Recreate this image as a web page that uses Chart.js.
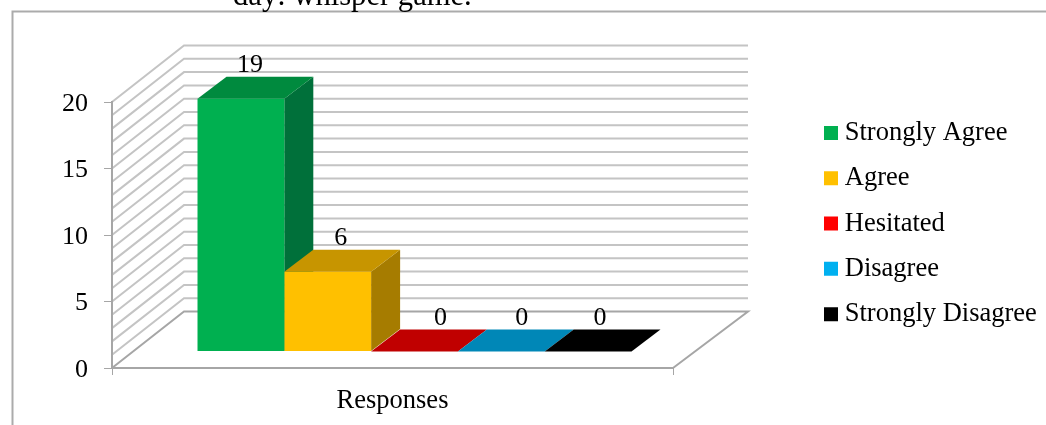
<!DOCTYPE html>
<html>
<head>
<meta charset="utf-8">
<style>
html,body{margin:0;padding:0;background:#fff;overflow:hidden}
#wrap{width:1046px;height:425px;position:relative}
</style>
<script src="https://cdn.jsdelivr.net/npm/chart.js@4/dist/chart.umd.min.js"></script>
</head>
<body>
<div id="wrap"><canvas id="chart" width="1046" height="425"></canvas></div>
<script>
// data
const categories=['Responses'];
const seriesNames=['Strongly Agree','Agree','Hesitated','Disagree','Strongly Disagree'];
const seriesValues=[19,6,0,0,0];
const yTicksMajor=[0,5,10,15,20];

// colours per series
const frontColors=['#00B050','#FFC000','#FF0000','#00B0F0','#000000'];
const topColors=['#008A3E','#C79500','#C00000','#0087B7','#000000'];
const sideColors=['#00703A','#A67C00','#9C0000','#006E95','#000000'];

const SERIF="'Liberation Serif','Times New Roman',serif";
const WALL={dx:72,dy:-56.5,rightDx:75};   // back wall offset from front axes
const BAR_SHIFT={x:22,y:-16.5};           // bars stand away from the front axes
const DEPTH={x:29,y:-22};                 // bar depth
const LABEL_NUDGE=[9,13,26,20.5,12];      // value labels sit off centre in the original

function poly(ctx,pts,fill){
  ctx.beginPath();
  pts.forEach((p,i)=>i?ctx.lineTo(p[0],p[1]):ctx.moveTo(p[0],p[1]));
  ctx.closePath();
  ctx.fillStyle=fill;
  ctx.fill();
}

const threeD={
  id:'threeD',
  beforeDraw(chart){
    const {ctx,chartArea:a,scales:{y}}=chart;
    ctx.save();
    // outer frame, runs off the picture
    ctx.strokeStyle='#ababab';ctx.lineWidth=2;
    ctx.beginPath();ctx.moveTo(12.5,425);ctx.lineTo(12.5,11.5);ctx.lineTo(1046,11.5);ctx.stroke();
    // clipped heading above the frame
    ctx.fillStyle='#000';ctx.font='30.6px '+SERIF;ctx.textAlign='left';ctx.textBaseline='alphabetic';
    ctx.fillText('day: whisper game.',233,4.5);
    // side and back walls
    y.ticks.forEach(t=>{
      const py=y.getPixelForValue(t.value);
      ctx.strokeStyle=t.value===0?'#a6a6a6':'#c4c4c4';
      ctx.beginPath();
      ctx.moveTo(a.left,py);
      ctx.lineTo(a.left+WALL.dx,py+WALL.dy);
      ctx.lineTo(a.right+WALL.rightDx,py+WALL.dy);
      if(t.value===0)ctx.lineTo(a.right,py);
      ctx.stroke();
    });
    ctx.restore();
  },
  beforeDatasetsDraw(chart){
    const {ctx}=chart;
    ctx.save();
    ctx.translate(BAR_SHIFT.x,BAR_SHIFT.y);
    chart.data.datasets.forEach((ds,i)=>{
      const b=chart.getDatasetMeta(i).data[0];
      const l=b.x-b.width/2,r=b.x+b.width/2;
      poly(ctx,[[r,b.base],[r+DEPTH.x,b.base+DEPTH.y],[r+DEPTH.x,b.y+DEPTH.y],[r,b.y]],sideColors[i]);
      poly(ctx,[[l,b.y],[l+DEPTH.x,b.y+DEPTH.y],[r+DEPTH.x,b.y+DEPTH.y],[r,b.y]],topColors[i]);
    });
  },
  afterDatasetsDraw(chart){
    const {ctx}=chart;
    ctx.fillStyle='#000';ctx.font='26px '+SERIF;ctx.textAlign='center';ctx.textBaseline='alphabetic';
    chart.data.datasets.forEach((ds,i)=>{
      const b=chart.getDatasetMeta(i).data[0];
      ctx.fillText(String(ds.data[0]),b.x+LABEL_NUDGE[i],b.y-27);
    });
    ctx.restore();
  },
  afterLayout(chart){
    // legend floats apart from the plot, its box is wider than the fitted size
    const l=chart.legend,h=l.bottom-l.top;
    l.left=811.7;l.right=1046;l.width=l.right-l.left;
    l.top=100.9;l.bottom=l.top+h;
    // y tick labels sit a little lower than canvas "middle"
    const s=chart.scales.y;
    if(!s.shifted){
      const draw=s.drawLabels.bind(s);
      s.drawLabels=area=>{
        chart.ctx.save();chart.ctx.translate(0,2);draw(area);chart.ctx.restore();
      };
      s.shifted=true;
    }
  }
};

new Chart(document.getElementById('chart'),{
  type:'bar',
  data:{
    labels:categories,
    datasets:seriesNames.map((name,i)=>({
      label:name,
      data:[seriesValues[i]],
      backgroundColor:frontColors[i],
      borderWidth:0,
      barPercentage:1,
      categoryPercentage:0.7736
    }))
  },
  options:{
    responsive:false,
    animation:false,
    layout:{padding:{left:0,top:102,right:273,bottom:0}},
    plugins:{
      tooltip:{enabled:false},
      title:{display:false},
      legend:{
        position:'right',
        align:'start',
        maxWidth:100,
        labels:{
          boxWidth:1,boxHeight:1,padding:18.8,color:'#000',
          font:{family:SERIF,size:26.5},
          generateLabels(chart){
            return Chart.defaults.plugins.legend.labels.generateLabels(chart).map(it=>{
              it.strokeStyle=it.fillStyle;it.lineWidth=13;
              return it;
            });
          }
        }
      }
    },
    scales:{
      x:{
        afterFit(s){s.height=57},
        border:{color:'#a6a6a6',width:2},
        grid:{drawOnChartArea:false,drawTicks:true,tickLength:7,tickColor:'#a6a6a6',tickWidth:1},
        ticks:{color:'#000',padding:10,font:{family:SERIF,size:26.5}}
      },
      y:{
        min:0,max:20,
        afterFit(s){s.width=112},
        border:{color:'#a6a6a6',width:2},
        grid:{
          drawOnChartArea:false,drawTicks:true,tickLength:8,tickWidth:1,
          tickColor:c=>yTicksMajor.includes(c.tick.value)?'#a6a6a6':'rgba(0,0,0,0)'
        },
        ticks:{
          stepSize:1,autoSkip:false,color:'#000',padding:16,
          font:{family:SERIF,size:26},
          callback:v=>yTicksMajor.includes(v)?v:''
        }
      }
    }
  },
  plugins:[threeD]
});
</script>
</body>
</html>
